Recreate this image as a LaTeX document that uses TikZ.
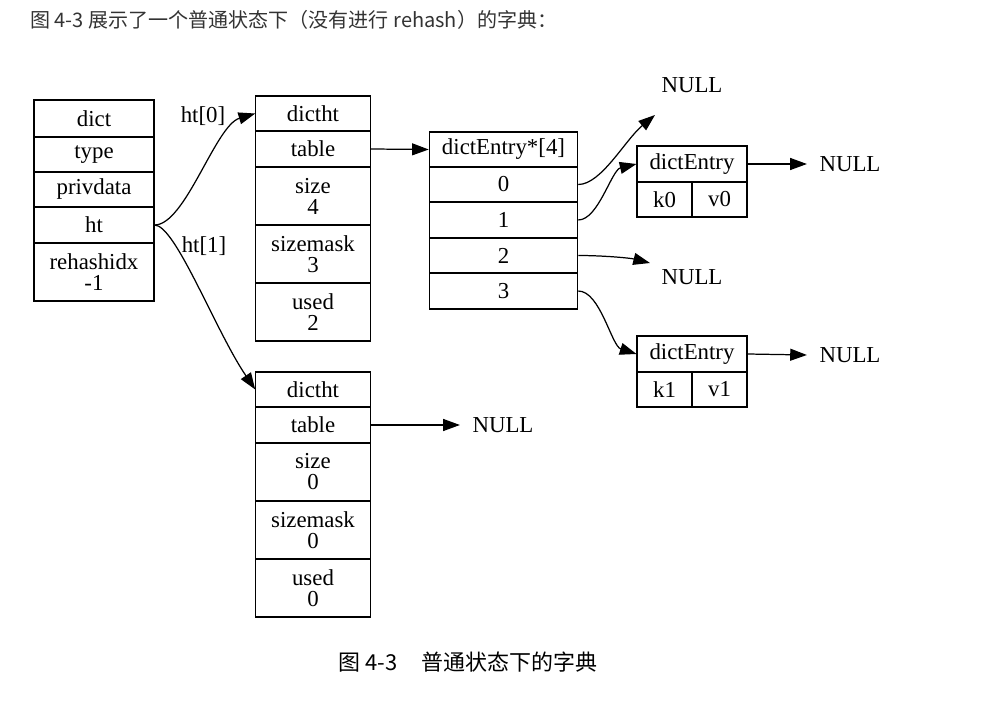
\documentclass[tikz,border=0pt]{standalone}
\usepackage{fontspec}
\setmainfont{Liberation Serif}
\newfontfamily\cjk{Noto Sans CJK SC}
\usetikzlibrary{arrows.meta}

\begin{document}
\begin{tikzpicture}[x=0.02cm, y=-0.02cm,
    camp/.style={draw, line width=0.6pt, inner sep=0pt, align=center,
        font=\fontsize{13}{12}\selectfont},
    nul/.style={inner sep=7pt, font=\fontsize{13}{15}\selectfont},
    etq/.style={inner sep=1pt, font=\fontsize{13}{15}\selectfont},
    fle/.style={line width=0.7pt, -{Triangle[length=9.5pt,width=6.8pt]}}]

    \useasboundingbox (0,0) rectangle (998,716);

    % TEXT DE CAPCALERA
    \node[anchor=west, inner sep=0pt, text=black!80, font=\cjk\fontsize{11.4}{14}\selectfont] (titol) at (30,20)
        {图 4-3 展示了一个普通状态下（没有进行 rehash）的字典：};

    % DICT
    \foreach \n/\txt/\a/\b in {d-dict/dict/100/137, d-type/type/137/172, d-priv/privdata/172/207,
        d-ht/ht/207/243, d-rehash/{rehashidx\\-1}/243/301} {
        \node[camp, minimum width=2.4cm, minimum height={(\b-\a)*0.02cm}] (\n) at (94, {(\a+\b)/2}) {\txt};
    }

    % LES DUES DICTHT (ht[0] i ht[1])
    \foreach \p/\o/\vs/\vm/\vu in {t0/0/4/3/2, t1/276/0/0/0} {
        \foreach \n/\txt/\a/\b in {h/dictht/96/131, tab/table/131/167, sz/{size\\\vs}/167/225,
            mk/{sizemask\\\vm}/225/283, us/{used\\\vu}/283/341} {
            \node[camp, minimum width=2.29cm, minimum height={(\b-\a)*0.02cm}] (\p-\n) at (313, {(\a+\b)/2+\o}) {\txt};
        }
    }

    % TAULA dictEntry*[4]
    \foreach \n/\txt/\a/\b in {h/dictEntry*[4]/132/167, 0/0/167/202, 1/1/202/238, 2/2/238/273, 3/3/273/309} {
        \node[camp, minimum width=2.97cm, minimum height={(\b-\a)*0.02cm}] (arr-\n) at (503.5, {(\a+\b)/2}) {\txt};
    }

    % ENTRADES dictEntry
    \foreach \e/\k/\y in {e0/0/164, e1/1/354} {
        \node[camp, minimum width=2.2cm, minimum height=0.72cm] (\e-h) at (692, \y) {dictEntry};
        \node[camp, minimum width=1.1cm, minimum height=0.7cm] (\e-k) at (664.5, \y+35.5) {k\k};
        \node[camp, minimum width=1.1cm, minimum height=0.7cm] (\e-v) at (719.5, \y+35.5) {v\k};
    }

    % NULLS
    \node[nul] (n-t1) at (503,425) {NULL};
    \node[nul] (n-0) at (692,85) {NULL};
    \node[nul] (n-2) at (692,277) {NULL};
    \node[nul] (n-e0) at (850,164) {NULL};
    \node[nul] (n-e1) at (850,355) {NULL};
    \coordinate (c-0) at (655,115);
    \coordinate (c-2) at (650,263);

    % ETIQUETES
    \node[etq] (l-ht0) at (203,116) {ht[0]};
    \node[etq] (l-ht1) at (204,246) {ht[1]};

    % FLETXES
    \draw[fle] (d-ht.east) .. controls +(31,0) and +(-40,12) .. (t0-h.west);
    \draw[fle] (d-ht.east) .. controls +(21,0) and +(-40,-59) .. (t1-h.west);
    \draw[fle] (t0-tab.east) -- (arr-h.west);
    \draw[fle] (t1-tab.east) -- (n-t1.west);
    \draw[fle] (arr-0.east) .. controls +(23,0) and +(-30,25) .. (c-0);
    \draw[fle] (arr-1.east) .. controls +(20,0) and +(-25,6) .. (e0-h.west);
    \draw[fle] (arr-2.east) .. controls +(25,0) and +(-20,-5) .. (c-2);
    \draw[fle] (arr-3.east) .. controls +(22,0) and +(-25,-8) .. (e1-h.west);
    \draw[fle] (e0-h.east) -- (n-e0.west);
    \draw[fle] (e1-h.east) -- (n-e1.west);

    % PEU
    \node[font=\cjk\fontsize{12.5}{15}\selectfont] (peu) at (468,662) {图 4-3\hspace{1.1em}普通状态下的字典};

\end{tikzpicture}
\end{document}
